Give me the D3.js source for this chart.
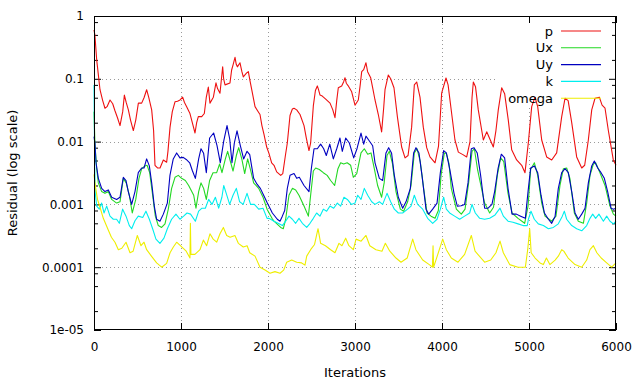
<!DOCTYPE html>
<html>
<head>
<meta charset="utf-8">
<script src="https://cdn.jsdelivr.net/npm/d3@7"></script>
<style>
  html, body { margin: 0; padding: 0; background: #fff; }
  svg { display: block; font-family: "DejaVu Sans", sans-serif; }
</style>
</head>
<body>
<div id="chart"></div>
<script>
// residuals: [iteration, residual]
const pRes = [[0,0.6],[10,0.5],[31,0.2],[69,0.067],[100,0.045],[126,0.034],[150,0.036],[184,0.046],[215,0.04],[241,0.031],[270,0.024],[299,0.018],[330,0.03],[349,0.055],[370,0.042],[395,0.032],[420,0.022],[452,0.015],[480,0.022],[510,0.041],[548,0.041],[575,0.05],[605,0.067],[630,0.05],[663,0.032],[685,0.015],[701,0.0042],[730,0.0038],[759,0.0038],[797,0.0051],[835,0.0047],[850,0.007],[874,0.017],[900,0.03],[931,0.043],[960,0.044],[989,0.046],[1019,0.051],[1040,0.042],[1065,0.036],[1103,0.028],[1130,0.02],[1161,0.0137],[1180,0.02],[1199,0.025],[1238,0.025],[1268,0.028],[1290,0.05],[1314,0.074],[1333,0.041],[1372,0.051],[1402,0.086],[1420,0.07],[1448,0.059],[1465,0.1],[1479,0.155],[1490,0.1],[1506,0.08],[1563,0.086],[1582,0.138],[1600,0.17],[1621,0.22],[1635,0.17],[1648,0.155],[1678,0.18],[1700,0.13],[1716,0.107],[1755,0.124],[1774,0.13],[1795,0.09],[1813,0.067],[1851,0.036],[1880,0.031],[1908,0.027],[1930,0.018],[1954,0.013],[1985,0.0082],[2011,0.0065],[2042,0.0046],[2069,0.0042],[2100,0.0033],[2146,0.0029],[2170,0.0031],[2200,0.006],[2222,0.0095],[2253,0.026],[2280,0.033],[2299,0.034],[2330,0.032],[2368,0.027],[2414,0.018],[2440,0.0115],[2471,0.0072],[2490,0.0095],[2521,0.037],[2545,0.065],[2567,0.077],[2580,0.068],[2598,0.055],[2624,0.053],[2660,0.048],[2713,0.041],[2745,0.032],[2770,0.024],[2790,0.045],[2808,0.072],[2847,0.077],[2870,0.09],[2885,0.104],[2900,0.085],[2920,0.078],[2962,0.062],[3000,0.038],[3038,0.046],[3060,0.08],[3077,0.13],[3100,0.14],[3126,0.18],[3145,0.13],[3180,0.104],[3205,0.07],[3230,0.046],[3268,0.027],[3306,0.0143],[3330,0.035],[3345,0.067],[3383,0.115],[3410,0.1],[3448,0.072],[3487,0.025],[3536,0.0082],[3575,0.0055],[3610,0.006],[3651,0.017],[3682,0.08],[3709,0.089],[3747,0.051],[3785,0.017],[3824,0.008],[3862,0.0057],[3920,0.0046],[3960,0.0085],[3996,0.059],[4046,0.103],[4070,0.08],[4111,0.028],[4149,0.0106],[4188,0.0068],[4240,0.0062],[4284,0.0057],[4322,0.01],[4345,0.05],[4360,0.089],[4385,0.075],[4417,0.032],[4475,0.0106],[4514,0.0143],[4550,0.011],[4590,0.0082],[4620,0.015],[4647,0.032],[4686,0.072],[4720,0.058],[4762,0.022],[4801,0.0074],[4858,0.0051],[4916,0.0042],[4954,0.0032],[4992,0.0095],[5031,0.036],[5069,0.051],[5100,0.036],[5146,0.0106],[5203,0.0057],[5261,0.0051],[5318,0.0066],[5376,0.025],[5414,0.049],[5450,0.045],[5491,0.02],[5548,0.0057],[5606,0.0038],[5640,0.0042],[5682,0.0106],[5721,0.032],[5759,0.049],[5808,0.051],[5840,0.038],[5874,0.034],[5912,0.015],[5969,0.0051],[6000,0.0042]];

const uxRes = [[0,0.03],[11,0.009],[31,0.0037],[50,0.0022],[88,0.0016],[126,0.0015],[165,0.0016],[203,0.0012],[260,0.00105],[299,0.0011],[337,0.0026],[370,0.0022],[406,0.0014],[440,0.00073],[480,0.0012],[517,0.0026],[548,0.0037],[586,0.0041],[610,0.0042],[640,0.0032],[674,0.0014],[705,0.00065],[739,0.00046],[777,0.00043],[816,0.00049],[854,0.00084],[892,0.0018],[931,0.0027],[969,0.0029],[1007,0.0026],[1050,0.0024],[1088,0.002],[1146,0.0014],[1172,0.00087],[1203,0.0016],[1230,0.0022],[1260,0.0018],[1291,0.0012],[1329,0.0024],[1368,0.0032],[1410,0.0032],[1444,0.0044],[1471,0.0032],[1510,0.0053],[1536,0.007],[1565,0.005],[1598,0.0034],[1636,0.006],[1663,0.008],[1700,0.0052],[1732,0.0031],[1766,0.0053],[1800,0.0035],[1835,0.0022],[1893,0.0018],[1943,0.0013],[1989,0.00084],[2046,0.0006],[2069,0.00054],[2146,0.00043],[2176,0.00041],[2203,0.00058],[2241,0.0014],[2280,0.0018],[2318,0.0017],[2356,0.0014],[2414,0.00094],[2464,0.00065],[2490,0.0014],[2521,0.0034],[2548,0.0038],[2590,0.0036],[2636,0.0032],[2680,0.0029],[2720,0.0024],[2766,0.002],[2804,0.0037],[2835,0.0046],[2870,0.0044],[2910,0.0046],[2950,0.0042],[2981,0.0027],[3020,0.0031],[3069,0.0066],[3107,0.0077],[3146,0.0063],[3184,0.0066],[3222,0.0037],[3260,0.002],[3306,0.0013],[3335,0.0022],[3368,0.006],[3395,0.007],[3430,0.0045],[3471,0.0016],[3521,0.00084],[3559,0.00078],[3605,0.0011],[3644,0.002],[3682,0.0066],[3713,0.0077],[3750,0.0048],[3789,0.0018],[3828,0.00073],[3874,0.00065],[3920,0.0006],[3958,0.0008],[3989,0.0029],[4027,0.0066],[4050,0.0065],[4080,0.0045],[4107,0.0018],[4165,0.00084],[4222,0.0007],[4265,0.00084],[4306,0.0022],[4345,0.007],[4372,0.0077],[4410,0.0035],[4490,0.00105],[4548,0.00073],[4592,0.0009],[4636,0.0029],[4674,0.0055],[4710,0.0048],[4759,0.0015],[4805,0.00073],[4874,0.0006],[4950,0.0005],[4989,0.00094],[5019,0.0036],[5062,0.0046],[5100,0.0029],[5146,0.00105],[5184,0.00065],[5261,0.00054],[5310,0.00065],[5356,0.002],[5395,0.0037],[5433,0.0038],[5470,0.0026],[5521,0.00073],[5567,0.00054],[5625,0.0005],[5663,0.00105],[5701,0.0029],[5740,0.0044],[5766,0.0046],[5816,0.0032],[5874,0.002],[5931,0.00094],[5970,0.0007],[6000,0.00065]];

const uyRes = [[0,0.012],[11,0.0095],[23,0.0046],[50,0.0026],[88,0.0018],[126,0.0016],[165,0.0017],[203,0.0013],[260,0.0012],[299,0.0013],[337,0.0027],[368,0.0024],[394,0.0016],[433,0.001],[471,0.0016],[509,0.0032],[548,0.0038],[575,0.0038],[605,0.0053],[636,0.0041],[663,0.0022],[693,0.00094],[720,0.00058],[758,0.00054],[797,0.0007],[843,0.00105],[873,0.0029],[911,0.0053],[950,0.0066],[988,0.0055],[1026,0.0056],[1060,0.0052],[1100,0.0046],[1129,0.0035],[1165,0.0026],[1203,0.0053],[1230,0.0077],[1260,0.0065],[1291,0.0032],[1329,0.0114],[1375,0.0137],[1414,0.0086],[1452,0.0046],[1491,0.0102],[1529,0.018],[1560,0.011],[1586,0.0046],[1613,0.0095],[1644,0.0148],[1682,0.0086],[1720,0.0053],[1759,0.007],[1790,0.0062],[1835,0.0026],[1874,0.0021],[1912,0.0018],[1950,0.0014],[1992,0.00105],[2050,0.00073],[2107,0.00058],[2138,0.00054],[2165,0.00065],[2192,0.0008],[2222,0.0018],[2253,0.0029],[2299,0.0031],[2330,0.0026],[2360,0.0027],[2414,0.002],[2471,0.0016],[2498,0.0037],[2529,0.0077],[2567,0.0077],[2605,0.0091],[2640,0.0077],[2670,0.006],[2710,0.0091],[2751,0.0053],[2790,0.0077],[2827,0.0114],[2854,0.007],[2893,0.0114],[2935,0.0095],[2985,0.0055],[3023,0.0077],[3069,0.0137],[3100,0.0091],[3126,0.0122],[3165,0.0102],[3203,0.0086],[3230,0.0046],[3280,0.0026],[3318,0.0024],[3356,0.0066],[3387,0.008],[3420,0.0066],[3452,0.0029],[3498,0.0013],[3548,0.00087],[3586,0.0011],[3636,0.0018],[3674,0.0066],[3701,0.008],[3735,0.0066],[3770,0.0029],[3816,0.00084],[3847,0.0007],[3893,0.00084],[3943,0.00105],[3981,0.0032],[4019,0.0072],[4050,0.0066],[4088,0.0037],[4138,0.0015],[4176,0.00094],[4220,0.00095],[4260,0.001],[4299,0.0022],[4337,0.0077],[4368,0.008],[4405,0.0066],[4444,0.0029],[4490,0.00087],[4530,0.00087],[4574,0.001],[4605,0.0016],[4644,0.0037],[4682,0.0063],[4720,0.0055],[4759,0.0018],[4805,0.0007],[4855,0.0007],[4904,0.00065],[4958,0.0006],[4989,0.0016],[5019,0.0038],[5062,0.0041],[5100,0.0032],[5138,0.0014],[5177,0.00073],[5223,0.00058],[5261,0.0005],[5300,0.00065],[5337,0.0018],[5376,0.0032],[5414,0.0037],[5452,0.0032],[5491,0.0016],[5529,0.00073],[5567,0.00058],[5606,0.0007],[5644,0.00087],[5682,0.0022],[5721,0.0041],[5751,0.0049],[5790,0.0038],[5828,0.0032],[5866,0.0026],[5904,0.0016],[5943,0.00087],[5970,0.00084],[6000,0.00087]];

const kRes = [[0,0.08],[8,0.004],[15,0.0015],[31,0.00094],[61,0.00084],[88,0.00105],[115,0.00073],[146,0.00094],[184,0.00065],[222,0.00058],[260,0.00058],[291,0.0005],[329,0.00084],[368,0.00065],[406,0.00046],[433,0.00041],[471,0.00055],[509,0.00065],[560,0.00062],[597,0.00078],[636,0.00058],[674,0.00041],[712,0.00028],[758,0.00024],[804,0.00029],[843,0.00041],[892,0.00058],[942,0.0007],[988,0.00058],[1030,0.00065],[1069,0.00073],[1110,0.0007],[1165,0.00054],[1203,0.00078],[1241,0.00087],[1280,0.00087],[1318,0.0012],[1356,0.001],[1395,0.0013],[1433,0.00087],[1470,0.0013],[1491,0.002],[1520,0.0015],[1559,0.001],[1598,0.0014],[1636,0.0018],[1674,0.0011],[1715,0.001],[1759,0.0015],[1800,0.001],[1843,0.001],[1893,0.00084],[1943,0.00087],[1989,0.0006],[2011,0.0006],[2069,0.00054],[2127,0.00049],[2165,0.00046],[2203,0.00054],[2241,0.00065],[2280,0.00058],[2318,0.0005],[2356,0.0006],[2395,0.0005],[2445,0.00043],[2483,0.0005],[2521,0.0006],[2559,0.00073],[2597,0.00065],[2636,0.00084],[2674,0.00078],[2712,0.00094],[2755,0.00087],[2797,0.00105],[2835,0.00094],[2873,0.0013],[2912,0.0012],[2958,0.001],[3000,0.00105],[3031,0.0014],[3069,0.0012],[3107,0.0018],[3146,0.0014],[3192,0.0011],[3230,0.001],[3280,0.0011],[3318,0.001],[3368,0.0015],[3410,0.0011],[3452,0.00084],[3498,0.00073],[3548,0.00073],[3605,0.00084],[3644,0.00094],[3682,0.0014],[3720,0.001],[3778,0.00084],[3835,0.0006],[3893,0.0005],[3943,0.00058],[3981,0.00084],[4019,0.0013],[4050,0.00084],[4088,0.00073],[4145,0.00065],[4203,0.00058],[4260,0.00065],[4318,0.00073],[4345,0.001],[4383,0.00073],[4433,0.0006],[4490,0.00058],[4548,0.0006],[4610,0.00068],[4667,0.00087],[4705,0.00065],[4759,0.00054],[4816,0.00052],[4874,0.00049],[4931,0.00046],[4980,0.00046],[4993,0.00058],[5023,0.00078],[5061,0.00058],[5107,0.00049],[5165,0.00046],[5223,0.00041],[5280,0.00043],[5337,0.00049],[5383,0.00065],[5406,0.00078],[5433,0.00058],[5491,0.00046],[5548,0.00041],[5606,0.00038],[5663,0.00046],[5701,0.0006],[5732,0.0007],[5766,0.0006],[5804,0.0007],[5855,0.00054],[5893,0.00065],[5931,0.00054],[5970,0.00049],[6000,0.00054]];

const omegaRes = [[0,0.003],[15,0.002],[40,0.0012],[69,0.0009],[107,0.0006],[164,0.00039],[200,0.0003],[241,0.00025],[280,0.00019],[320,0.0002],[368,0.00025],[414,0.00017],[450,0.00018],[498,0.00032],[540,0.00022],[575,0.00025],[605,0.00019],[660,0.00015],[720,0.000117],[778,0.0001],[835,0.000115],[874,0.00017],[912,0.00021],[950,0.00025],[1008,0.00021],[1060,0.00018],[1103,0.00014],[1108,0.0005],[1114,0.00016],[1160,0.00016],[1218,0.00019],[1257,0.00027],[1295,0.00022],[1333,0.00034],[1370,0.00028],[1410,0.00025],[1448,0.00034],[1487,0.00043],[1525,0.00032],[1565,0.0003],[1620,0.00032],[1659,0.00024],[1716,0.00021],[1760,0.00022],[1790,0.00017],[1851,0.00015],[1908,0.0001],[1966,0.00009],[2023,0.00008],[2080,0.000085],[2138,0.00008],[2180,0.00009],[2215,0.00012],[2272,0.00013],[2330,0.00012],[2387,0.000117],[2425,0.000108],[2445,0.00015],[2490,0.00019],[2535,0.00023],[2575,0.00041],[2605,0.00024],[2660,0.00022],[2720,0.00019],[2770,0.00017],[2816,0.00024],[2850,0.00022],[2893,0.00029],[2930,0.00022],[2981,0.00019],[3012,0.00028],[3070,0.00026],[3126,0.00032],[3170,0.00022],[3241,0.00019],[3310,0.00018],[3349,0.00024],[3400,0.00018],[3471,0.00014],[3529,0.00012],[3600,0.00014],[3663,0.00028],[3700,0.00019],[3778,0.00013],[3854,0.00011],[3890,0.0001],[3897,0.00022],[3904,0.0001],[3969,0.00019],[4008,0.00028],[4050,0.00019],[4107,0.00014],[4184,0.00012],[4260,0.00016],[4337,0.00032],[4380,0.00018],[4490,0.00012],[4560,0.00013],[4620,0.00017],[4667,0.00026],[4705,0.00017],[4778,0.00011],[4874,0.0001],[4958,0.0001],[4985,0.00019],[5008,0.00041],[5025,0.00017],[5070,0.00014],[5127,0.000117],[5165,0.00011],[5200,0.00014],[5240,0.00011],[5300,0.00013],[5337,0.00015],[5376,0.00019],[5400,0.00018],[5450,0.00014],[5529,0.00011],[5606,0.0001],[5663,0.00013],[5701,0.00019],[5740,0.00022],[5780,0.00017],[5830,0.00014],[5893,0.000117],[5950,0.0001],[6000,0.000117]];

const seriesNames  = ["p", "Ux", "Uy", "k", "omega"];
const seriesColors = ["#ee1111", "#22d822", "#0000c0", "#00eeee", "#eeee00"];
const seriesData   = [pRes, uxRes, uyRes, kRes, omegaRes];

const xTicks = [0, 1000, 2000, 3000, 4000, 5000, 6000];
const yTicks = [1, 0.1, 0.01, 0.001, 0.0001, 0.00001];
const yTickLabels = ["1", "0.1", "0.01", "0.001", "0.0001", "1e-05"];
const yMinorTicks = [];
yTicks.slice(0, -1).forEach(t => [0.2, 0.5, 0.8].forEach(m => yMinorTicks.push(t * m)));

const W = 640, H = 384;
const L = 94, R = 616, T = 16, B = 330;

const svg = d3.select("#chart").append("svg").attr("width", W).attr("height", H);

const x = d3.scaleLinear().domain([0, 6000]).range([L, R]);
const y = d3.scaleLog().domain([1e-5, 1]).range([B, T]);

// grid (dotted), behind everything
const grid = svg.append("g").attr("stroke", "#9a9a9a").attr("stroke-width", 1).attr("stroke-dasharray", "1,3");
grid.selectAll(".gx").data(xTicks.slice(1, -1)).join("line")
    .attr("x1", d => x(d) + 0.5).attr("x2", d => x(d) + 0.5).attr("y1", T).attr("y2", B);
grid.selectAll(".gy").data(yTicks.slice(1, -1)).join("line")
    .attr("x1", L).attr("x2", R).attr("y1", d => Math.round(y(d)) + 0.5).attr("y2", d => Math.round(y(d)) + 0.5);

// key background hides the grid under it
svg.append("rect").attr("x", 495).attr("y", T + 1).attr("width", R - 495).attr("height", 90).attr("fill", "#fff");

// axes: ticks inward, mirrored on top/right
const styleAxis = g => { g.select(".domain").remove(); g.selectAll("line").attr("stroke", "#000"); };
const fmt = d => yTickLabels[yTicks.indexOf(d)];

svg.append("g").attr("transform", `translate(0,${B})`)
    .call(d3.axisBottom(x).tickValues(xTicks).tickSizeInner(-7).tickSizeOuter(0).tickPadding(12).tickFormat(d3.format("d")))
    .call(styleAxis)
    .selectAll("text").attr("font-size", 12).attr("font-family", "DejaVu Sans").attr("fill", "#000");
svg.append("g").attr("transform", `translate(0,${T})`)
    .call(d3.axisTop(x).tickValues(xTicks).tickSizeInner(-7).tickSizeOuter(0).tickFormat(""))
    .call(styleAxis);

svg.append("g").attr("transform", `translate(${L},0)`)
    .call(d3.axisLeft(y).tickValues(yTicks).tickSizeInner(-7).tickSizeOuter(0).tickPadding(10).tickFormat(fmt))
    .call(styleAxis)
    .selectAll("text").attr("font-size", 12).attr("font-family", "DejaVu Sans").attr("fill", "#000");
svg.append("g").attr("transform", `translate(${L},0)`)
    .call(d3.axisLeft(y).tickValues(yMinorTicks).tickSizeInner(-4).tickSizeOuter(0).tickFormat(""))
    .call(styleAxis);
svg.append("g").attr("transform", `translate(${R},0)`)
    .call(d3.axisRight(y).tickValues(yTicks).tickSizeInner(-7).tickSizeOuter(0).tickFormat(""))
    .call(styleAxis);
svg.append("g").attr("transform", `translate(${R},0)`)
    .call(d3.axisRight(y).tickValues(yMinorTicks).tickSizeInner(-4).tickSizeOuter(0).tickFormat(""))
    .call(styleAxis);

// curves
const line = d3.line().x(d => x(d[0])).y(d => y(d[1]));
const curves = svg.append("g").attr("fill", "none").attr("stroke-width", 1.1).attr("stroke-linejoin", "round");
seriesData.forEach((s, i) => {
    curves.append("path").datum(s).attr("d", line).attr("stroke", seriesColors[i]);
});

// key
const key = svg.append("g").attr("font-size", 13).attr("fill", "#000");
seriesNames.forEach((n, i) => {
    const ky = 31 + i * 16.8;
    key.append("text").attr("x", 553).attr("y", ky + 4.6).attr("text-anchor", "end").text(n);
    key.append("line").attr("x1", 561).attr("x2", 601).attr("y1", ky).attr("y2", ky)
        .attr("stroke", seriesColors[i]).attr("stroke-width", 1.1);
});

// border
svg.append("rect").attr("x", L + 0.5).attr("y", T + 0.5).attr("width", R - L - 1).attr("height", B - T - 1)
    .attr("fill", "none").attr("stroke", "#000").attr("stroke-width", 1);

// axis labels
svg.append("text").attr("x", 355).attr("y", 377).attr("text-anchor", "middle").attr("font-size", 13).text("Iterations");
svg.append("text").attr("transform", `translate(17,${(T + B) / 2}) rotate(-90)`)
    .attr("text-anchor", "middle").attr("font-size", 13).text("Residual (log scale)");
</script>
</body>
</html>
